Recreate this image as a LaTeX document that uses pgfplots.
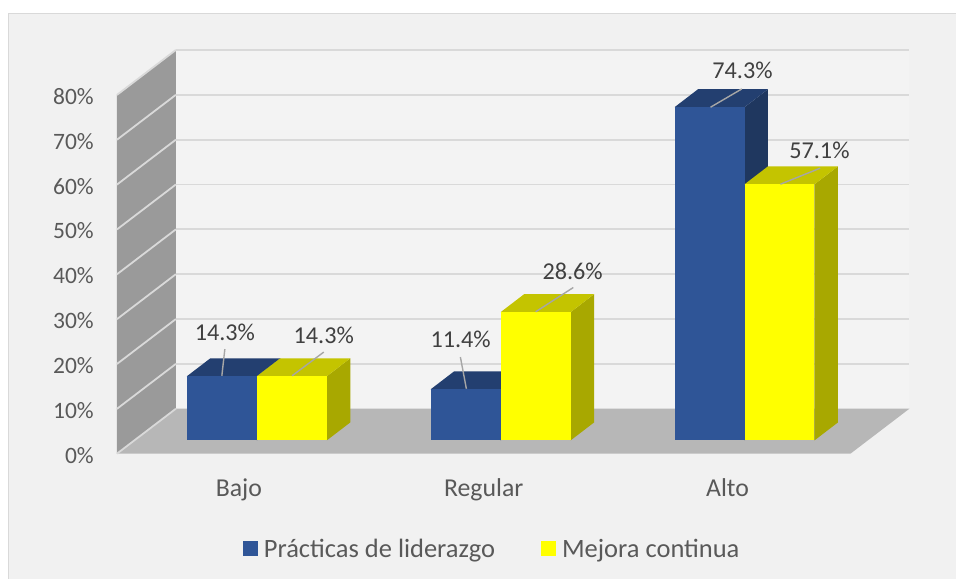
\documentclass[border=0pt]{standalone}
\usepackage{pgfplots}
\pgfplotsset{compat=1.18}
\usepackage{fontspec}
\setmainfont{Carlito}
\definecolor{bgc}{HTML}{F1F1F1}
\definecolor{wallc}{HTML}{F3F3F3}
\definecolor{gridc}{HTML}{D9D9D9}
\definecolor{sidew}{HTML}{9A9A9A}
\definecolor{floorc}{HTML}{B7B7B7}
\definecolor{bf}{HTML}{2F5597}
\definecolor{bt}{HTML}{233F70}
\definecolor{bs}{HTML}{1F375F}
\definecolor{yf}{HTML}{FFFF00}
\definecolor{yt}{HTML}{C4C400}
\definecolor{ys}{HTML}{A8A800}
\definecolor{tickc}{HTML}{595959}
\definecolor{labc}{HTML}{404040}
\definecolor{leadc}{HTML}{A6A6A6}
\newcommand{\txt}{\fontsize{24.2}{27}\selectfont}
\pgfplotsset{
  poly/.style={draw=none,no markers,forget plot},
  wl/.style={draw=gridc,line width=1.8pt,no markers,forget plot},
  lead/.style={draw=leadc,line width=1.4pt,no markers,forget plot},
  barshift/.style={yshift=13.3pt},
}
\tikzset{dl/.style={font=\txt,text=labc,inner sep=0pt,anchor=center}}
\begin{document}
\begin{tikzpicture}
\begin{axis}[
  scale only axis,
  width=734pt,height=359pt,
  xmin=117,xmax=851,ymin=0,ymax=80,
  clip=false,
  axis on top,
  axis line style={draw=none},
  major tick length=0pt,
  xtick={239,484,728},
  xticklabels={Bajo,Regular,Alto},
  ytick={0,10,20,30,40,50,60,70,80},
  yticklabels={0\%,10\%,20\%,30\%,40\%,50\%,60\%,70\%,80\%},
  yticklabel style={font=\fontsize{23.5}{27}\selectfont,text=tickc,inner sep=0pt,anchor=east,xshift=-23pt,yshift=-1.5pt},
  xticklabel style={font=\fontsize{25.8}{28}\selectfont,text=tickc,inner sep=0pt,anchor=center,text height=17pt,text depth=5pt,yshift=-37pt},
  legend style={draw=none,fill=none,at={(axis cs:492.5,-21.2)},anchor=center,
    font=\fontsize{26.5}{29}\selectfont,text=tickc,legend columns=2,inner sep=0pt,
    /tikz/every even column/.append style={column sep=44pt},
    /tikz/every odd column/.append style={column sep=4pt}},
  legend cell align=left,
]
% page and chart area
\addplot[fill=white,poly] coordinates {(0,-27.86)(0,101.17)(957,101.17)(957,-27.86)} --cycle;
\addplot[fill=bgc,poly] coordinates {(8.5,-27.86)(8.5,98.2)(957,98.2)(957,-27.86)} --cycle;
\addplot[draw=gridc,line width=1.3pt,no markers,forget plot] coordinates {(8.5,-27.86)(8.5,98.2)(957,98.2)};
% back wall, side wall, floor
\addplot[fill=wallc,poly] coordinates {(176,10.03)(176,90.03)(910,90.03)(910,10.03)} --cycle;
\addplot[fill=sidew,poly] coordinates {(117,0)(117,80)(176,90.03)(176,10.03)} --cycle;
\addplot[fill=floorc,poly] coordinates {(117,0)(176,10.03)(910,10.03)(851,0)} --cycle;
% gridlines on the back wall
\addplot[wl] coordinates {(176,20.03)(910,20.03)};
\addplot[wl] coordinates {(176,30.03)(910,30.03)};
\addplot[wl] coordinates {(176,40.03)(910,40.03)};
\addplot[wl] coordinates {(176,50.03)(910,50.03)};
\addplot[wl] coordinates {(176,60.03)(910,60.03)};
\addplot[wl] coordinates {(176,70.03)(910,70.03)};
\addplot[wl] coordinates {(176,80.03)(910,80.03)};
\addplot[wl] coordinates {(176,90.03)(910,90.03)};
% gridlines on the side wall
\addplot[wl] coordinates {(117,0)(176,10.03)};
\addplot[wl] coordinates {(117,10)(176,20.03)};
\addplot[wl] coordinates {(117,20)(176,30.03)};
\addplot[wl] coordinates {(117,30)(176,40.03)};
\addplot[wl] coordinates {(117,40)(176,50.03)};
\addplot[wl] coordinates {(117,50)(176,60.03)};
\addplot[wl] coordinates {(117,60)(176,70.03)};
\addplot[wl] coordinates {(117,70)(176,80.03)};
\addplot[wl] coordinates {(117,80)(176,90.03)};
% Bajo
\addplot[fill=bs,poly,barshift] coordinates {(257,0)(280.5,4.01)(280.5,18.31)(257,14.3)} --cycle;
\addplot[fill=bt,poly,barshift] coordinates {(187,14.3)(210.5,18.31)(280.5,18.31)(257,14.3)} --cycle;
\addplot[fill=bf,poly,barshift] coordinates {(187,0)(187,14.3)(257,14.3)(257,0)} --cycle;
\addplot[fill=ys,poly,barshift] coordinates {(327,0)(350.5,4.01)(350.5,18.31)(327,14.3)} --cycle;
\addplot[fill=yt,poly,barshift] coordinates {(257,14.3)(280.5,18.31)(350.5,18.31)(327,14.3)} --cycle;
\addplot[fill=yf,poly,barshift] coordinates {(257,0)(257,14.3)(327,14.3)(327,0)} --cycle;
% Regular
\addplot[fill=bs,poly,barshift] coordinates {(501,0)(524.5,4.01)(524.5,15.41)(501,11.4)} --cycle;
\addplot[fill=bt,poly,barshift] coordinates {(431,11.4)(454.5,15.41)(524.5,15.41)(501,11.4)} --cycle;
\addplot[fill=bf,poly,barshift] coordinates {(431,0)(431,11.4)(501,11.4)(501,0)} --cycle;
\addplot[fill=ys,poly,barshift] coordinates {(571,0)(594.5,4.01)(594.5,32.61)(571,28.6)} --cycle;
\addplot[fill=yt,poly,barshift] coordinates {(501,28.6)(524.5,32.61)(594.5,32.61)(571,28.6)} --cycle;
\addplot[fill=yf,poly,barshift] coordinates {(501,0)(501,28.6)(571,28.6)(571,0)} --cycle;
% Alto
\addplot[fill=bs,poly,barshift] coordinates {(745,0)(768.5,4.01)(768.5,78.31)(745,74.3)} --cycle;
\addplot[fill=bt,poly,barshift] coordinates {(675,74.3)(698.5,78.31)(768.5,78.31)(745,74.3)} --cycle;
\addplot[fill=bf,poly,barshift] coordinates {(675,0)(675,74.3)(745,74.3)(745,0)} --cycle;
\addplot[fill=ys,poly,barshift] coordinates {(815,0)(838.5,4.01)(838.5,61.11)(815,57.1)} --cycle;
\addplot[fill=yt,poly,barshift] coordinates {(745,57.1)(768.5,61.11)(838.5,61.11)(815,57.1)} --cycle;
\addplot[fill=yf,poly,barshift] coordinates {(745,0)(745,57.1)(815,57.1)(815,0)} --cycle;
% leader lines
\addplot[lead] coordinates {(222,17.38)(225,23.33)};
\addplot[lead] coordinates {(292.3,17.38)(324,22.66)};
\addplot[lead] coordinates {(466.7,14.48)(460.7,21.55)};
\addplot[lead] coordinates {(536,31.64)(573.7,37.06)};
\addplot[lead] coordinates {(711,77.26)(742.3,81.34)};
\addplot[lead] coordinates {(781,60.10)(820.7,63.67)};
% data labels
\node[dl] at (axis cs:225,27.0) {14.3\%};
\node[dl] at (axis cs:324,26.4) {14.3\%};
\node[dl] at (axis cs:461,25.4) {11.4\%};
\node[dl] at (axis cs:573,40.7) {28.6\%};
\node[dl] at (axis cs:743,85.4) {74.3\%};
\node[dl] at (axis cs:820,67.6) {57.1\%};
% legend
\addlegendimage{area legend,fill=bf,draw=none,legend image code/.code={\fill[bf] (0pt,-7.5pt) rectangle (15pt,7.5pt);}}
\addlegendentry{Prácticas de liderazgo}
\addlegendimage{area legend,fill=yf,draw=none,legend image code/.code={\fill[yf] (0pt,-7.5pt) rectangle (15pt,7.5pt);}}
\addlegendentry{Mejora continua}
\end{axis}
\end{tikzpicture}
\end{document}
